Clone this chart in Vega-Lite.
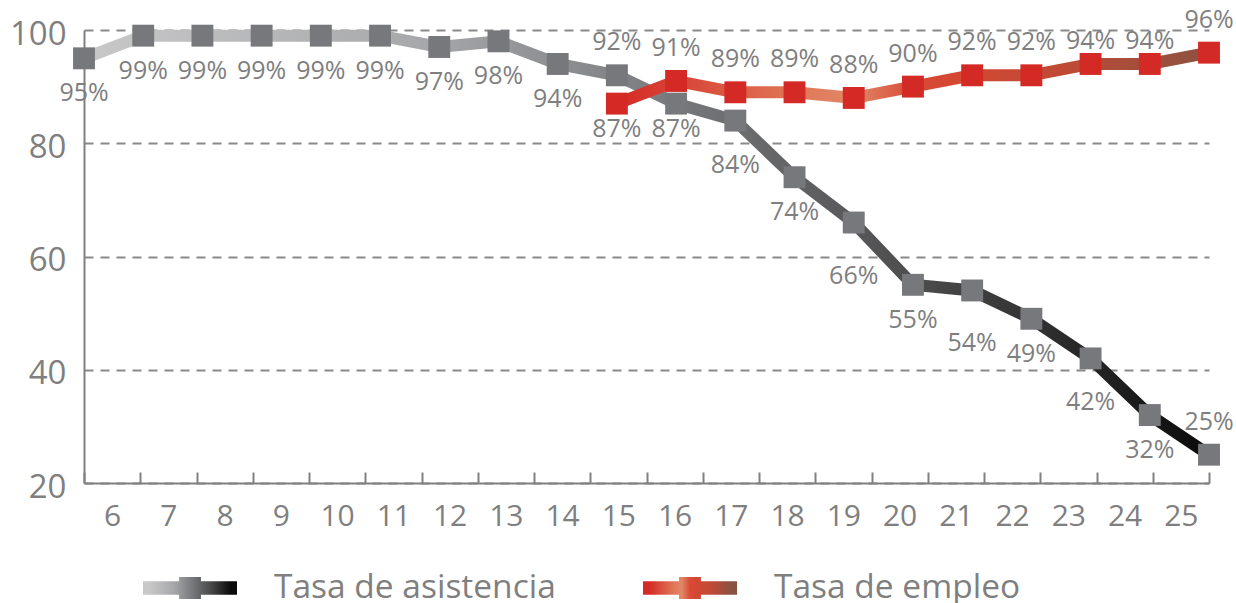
{
  "$schema": "https://vega.github.io/schema/vega-lite/v6.json",
  "width": 1125,
  "height": 453,
  "autosize": "none",
  "padding": {"left": 84, "top": 30, "right": 27, "bottom": 120},
  "background": "white",
  "config": {"view": {"stroke": null}, "font": "Open Sans"},
  "data": {"values": [
    {"age": 6, "serie": "Tasa de asistencia", "value": 95},
    {"age": 7, "serie": "Tasa de asistencia", "value": 99},
    {"age": 8, "serie": "Tasa de asistencia", "value": 99},
    {"age": 9, "serie": "Tasa de asistencia", "value": 99},
    {"age": 10, "serie": "Tasa de asistencia", "value": 99},
    {"age": 11, "serie": "Tasa de asistencia", "value": 99},
    {"age": 12, "serie": "Tasa de asistencia", "value": 97},
    {"age": 13, "serie": "Tasa de asistencia", "value": 98},
    {"age": 14, "serie": "Tasa de asistencia", "value": 94},
    {"age": 15, "serie": "Tasa de asistencia", "value": 92},
    {"age": 16, "serie": "Tasa de asistencia", "value": 87},
    {"age": 17, "serie": "Tasa de asistencia", "value": 84},
    {"age": 18, "serie": "Tasa de asistencia", "value": 74},
    {"age": 19, "serie": "Tasa de asistencia", "value": 66},
    {"age": 20, "serie": "Tasa de asistencia", "value": 55},
    {"age": 21, "serie": "Tasa de asistencia", "value": 54},
    {"age": 22, "serie": "Tasa de asistencia", "value": 49},
    {"age": 23, "serie": "Tasa de asistencia", "value": 42},
    {"age": 24, "serie": "Tasa de asistencia", "value": 32},
    {"age": 25, "serie": "Tasa de asistencia", "value": 25},
    {"age": 15, "serie": "Tasa de empleo", "value": 87},
    {"age": 16, "serie": "Tasa de empleo", "value": 91},
    {"age": 17, "serie": "Tasa de empleo", "value": 89},
    {"age": 18, "serie": "Tasa de empleo", "value": 89},
    {"age": 19, "serie": "Tasa de empleo", "value": 88},
    {"age": 20, "serie": "Tasa de empleo", "value": 90},
    {"age": 21, "serie": "Tasa de empleo", "value": 92},
    {"age": 22, "serie": "Tasa de empleo", "value": 92},
    {"age": 23, "serie": "Tasa de empleo", "value": 94},
    {"age": 24, "serie": "Tasa de empleo", "value": 94},
    {"age": 25, "serie": "Tasa de empleo", "value": 96}
  ]},
  "transform": [{"calculate": "datum.value + '%'", "as": "label"}],
  "layer": [
    {
      "mark": {"type": "point", "opacity": 0},
      "encoding": {
        "x": {"field": "age", "type": "ordinal",
          "scale": {"type": "band", "paddingInner": 0, "paddingOuter": 0},
          "axis": {"title": null, "labelAngle": 0, "labelFontSize": 30, "labelColor": "#7f7f7f",
            "domainColor": "#808080", "domainWidth": 2, "tickColor": "#808080", "tickWidth": 2,
            "tickSize": -11, "tickBand": "extent", "labelPadding": 29, "grid": false}},
        "y": {"field": "value", "type": "quantitative",
          "scale": {"domain": [20, 100], "nice": false, "zero": false},
          "axis": {"title": null, "values": [20, 40, 60, 80, 100], "grid": true, "gridDash": [9, 7],
            "gridColor": "#8a8a8a", "gridWidth": 2, "ticks": false, "domainColor": "#808080",
            "domainWidth": 2, "labelFontSize": 33, "labelColor": "#7f7f7f", "labelPadding": 18, "labelOffset": 4}}
      }
    },
    {
      "encoding": {
        "x": {"field": "age", "type": "quantitative", "scale": {"domain": [6, 25], "nice": false, "zero": false}, "axis": null},
        "y": {"field": "value", "type": "quantitative", "scale": {"domain": [20, 100], "nice": false, "zero": false}}
      },
      "layer": [
        {
          "mark": {"type": "line", "strokeWidth": 12},
          "encoding": {
            "color": {"field": "serie", "type": "nominal",
              "scale": {"domain": ["Tasa de asistencia", "Tasa de empleo"], "range": [
                {"expr": "{gradient: 'linear', x1: 0, y1: 0, x2: 1, y2: 0, stops: [{offset: 0, color: '#c8c8c9'}, {offset: 0.3, color: '#a7a8aa'}, {offset: 0.5, color: '#7d7e81'}, {offset: 0.75, color: '#4a4a4b'}, {offset: 1, color: '#0a0a0a'}]}"},
                {"expr": "{gradient: 'linear', x1: 0, y1: 0, x2: 1, y2: 0, stops: [{offset: 0, color: '#d42a25'}, {offset: 0.3, color: '#e07656'}, {offset: 0.4, color: '#e08868'}, {offset: 0.5, color: '#d84a35'}, {offset: 0.55, color: '#d64833'}, {offset: 0.75, color: '#c04a35'}, {offset: 1, color: '#8b5241'}]}"}
              ]},
              "legend": {"title": null, "orient": "none", "legendX": 59, "legendY": 511,
                "direction": "horizontal", "columns": 2,
                "symbolType": "M-1,-0.02H1V0.02H-1Z M-0.12,-0.12H0.12V0.12H-0.12Z",
                "symbolSize": 6724, "symbolStrokeWidth": 12, "symbolOpacity": 1,
                "labelFontSize": 33.5, "labelColor": "#7f7f7f", "labelOffset": 37,
                "columnPadding": 69, "labelLimit": 400}}
          }
        },
        {
          "mark": {"type": "square", "size": 480, "opacity": 1, "strokeWidth": 0},
          "encoding": {
            "fill": {"field": "serie", "type": "nominal",
              "scale": {"domain": ["Tasa de asistencia", "Tasa de empleo"], "range": ["#77787c", "#d42a26"]},
              "legend": null}
          }
        },
        {
          "transform": [{"filter": "datum.serie == 'Tasa de asistencia' && indexof([6,7,8,9,10,11,12,13,14,18,20,22,24], datum.age) >= 0"}],
          "mark": {"type": "text", "dy": 35, "fontSize": 25, "color": "#7f7f7f"},
          "encoding": {"text": {"field": "label"}}
        },
        {
          "transform": [{"filter": "(datum.serie == 'Tasa de asistencia' && datum.age == 16) || (datum.serie == 'Tasa de empleo' && datum.age == 15)"}],
          "mark": {"type": "text", "dy": 25, "fontSize": 25, "color": "#7f7f7f"},
          "encoding": {"text": {"field": "label"}}
        },
        {
          "transform": [{"filter": "datum.serie == 'Tasa de asistencia' && (datum.age == 17 || datum.age == 23)"}],
          "mark": {"type": "text", "dy": 44, "fontSize": 25, "color": "#7f7f7f"},
          "encoding": {"text": {"field": "label"}}
        },
        {
          "transform": [{"filter": "datum.serie == 'Tasa de asistencia' && (datum.age == 19 || datum.age == 21)"}],
          "mark": {"type": "text", "dy": 53, "fontSize": 25, "color": "#7f7f7f"},
          "encoding": {"text": {"field": "label"}}
        },
        {
          "transform": [{"filter": "(datum.serie == 'Tasa de asistencia' && (datum.age == 15 || datum.age == 25)) || (datum.serie == 'Tasa de empleo' && datum.age != 15 && datum.age != 23 && datum.age != 24)"}],
          "mark": {"type": "text", "dy": -33, "fontSize": 25, "color": "#7f7f7f"},
          "encoding": {"text": {"field": "label"}}
        },
        {
          "transform": [{"filter": "datum.serie == 'Tasa de empleo' && (datum.age == 23 || datum.age == 24)"}],
          "mark": {"type": "text", "dy": -23, "fontSize": 25, "color": "#7f7f7f"},
          "encoding": {"text": {"field": "label"}}
        }
      ]
    }
  ],
  "resolve": {"scale": {"x": "independent"}}
}
